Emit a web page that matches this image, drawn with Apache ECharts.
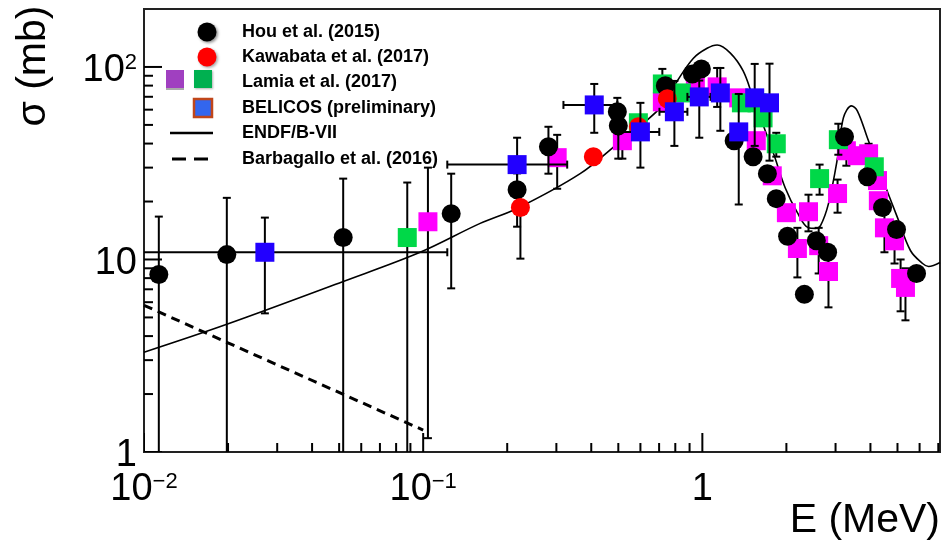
<!DOCTYPE html>
<html>
<head>
<meta charset="utf-8">
<script src="https://cdn.jsdelivr.net/npm/echarts@6/dist/echarts.min.js"></script>
<style>
html, body { margin: 0; padding: 0; background: #fff; }
#chart { width: 943px; height: 544px; }
</style>
</head>
<body>
<div id="chart"></div>
<script>
// rows: [E (MeV), sigma (mb), sigma low, sigma high]
var hou = [
    [0.0113, 8.36, 0.5, 16.7], [0.0198, 10.6, 0.5, 20.9], [0.0517, 13.0, 0.5, 26.3],
    [0.126, 17.3, 7.08, 27.9], [0.217, 23.0, 14.8, 28.0], [0.281, 38.5, 27.9, 48.9],
    [0.496, 58.5, 49, 69.1], [0.500, 49.5, 33.4, 58], [0.737, 79.8], [0.921, 92.0],
    [0.992, 97.7], [1.30, 41.4], [1.52, 34.2], [1.71, 27.9], [1.84, 20.7], [2.02, 13.2],
    [2.32, 6.59], [2.56, 12.5], [2.81, 10.9], [3.23, 43.4], [3.90, 26.9], [4.42, 18.6],
    [4.96, 14.3], [5.85, 8.46]
];
var kawabata = [
    [0.223, 18.6, 10.1, 22], [0.407, 34.2], [0.590, 48.9], [0.749, 68.3]
];
var lamiaMagenta = [
    [0.104, 15.7, 1.18, 30.0], [0.302, 33.8, 23.3, 44.4], [0.517, 41.4, 33.4, 48],
    [0.719, 65.9], [0.944, 81.6], [1.13, 78.8, 62, 98.8], [1.35, 69.1], [1.56, 41.4],
    [1.78, 27.2], [2.00, 17.5], [2.19, 11.4, 8.07, 14.6], [2.40, 17.7, 14, 21.7],
    [2.61, 11.8, 8.46, 14.6], [2.83, 8.66, 5.64, 11], [3.05, 22.0, 17.5, 26.0],
    [3.28, 36.7, 30.7, 42], [3.59, 34.6], [3.94, 35.4, 30, 39.9], [4.24, 25.7],
    [4.27, 20.2], [4.49, 14.6, 10.9, 18], [4.88, 12.5, 9.53, 15], [5.13, 7.97, 5.38, 10],
    [5.34, 7.16, 4.83, 9]
];
var lamiaGreen = [
    [0.0877, 13.0, 0.5, 25.1], [0.590, 51.3], [0.719, 81.6, 68, 97.7], [0.841, 73.3],
    [1.38, 65.1], [1.57, 65.1], [1.65, 54.4], [1.84, 39.9, 34.2, 45.5],
    [2.63, 26.3, 21.7, 31.1], [3.07, 41.9, 35, 50.7], [4.13, 30.3]
];
// rows: [E, sigma, sigma low, sigma high, E low, E high]
var belicos = [
    [0.0271, 10.9, 5.25, 16.5, 0.009, 0.122], [0.217, 31.1, 22, 42.9, 0.122, 0.328],
    [0.410, 63.5, 45.5, 81.6, 0.318, 0.496], [0.600, 46.0, 30.0, 65.1, 0.5, 0.701],
    [0.794, 58.5, 38.9, 84.6, 0.702, 0.884], [0.975, 69.9, 42.9, 85, 0.884, 1.07],
    [1.16, 73.3, 46.6, 98.8], [1.35, 46.0, 19.3, 72.4], [1.54, 69.1, 38.9, 103.7],
    [1.74, 65.1, 32.6, 104]
];
var endfE = [0.01, 0.0198, 0.0517, 0.0975, 0.160, 0.217, 0.365, 0.496, 0.707, 0.813,
    0.929, 1.04, 1.13, 1.26, 1.40, 1.52, 1.80, 1.98, 2.19, 2.40, 2.54, 2.65, 2.83, 3.05,
    3.20, 3.42, 3.59, 3.90, 4.35, 5.00, 5.57, 6.15, 6.46, 7.1];
var endfSigma = [3.30, 4.61, 7.69, 10.9, 15.4, 18.4, 27.9, 39.9, 61.3, 84.6,
    111, 125, 130, 118, 95.3, 69.1, 35.4, 23.6, 17.5, 14.6, 14.5, 15.0, 19.5, 33.8,
    54.4, 62.8, 59.2, 42.9, 27.9, 16.5, 11.1, 9.53, 9.20, 9.65];
var barbagalloE = [0.01, 0.1];
var barbagalloSigma = [5.78, 1.30];

var xMajorTicks = [0.01, 0.1, 1];
var yMajorTicks = [1, 10, 100];
var xMinorTicks = [0.02, 0.03, 0.04, 0.05, 0.06, 0.07, 0.08, 0.09,
    0.2, 0.3, 0.4, 0.5, 0.6, 0.7, 0.8, 0.9, 2, 3, 4, 5, 6, 7];
var yMinorTicks = [2, 3, 4, 5, 6, 7, 8, 9, 20, 30, 40, 50, 60, 70, 80, 90];
var legendLabels = ['Hou et al. (2015)', 'Kawabata et al. (2017)', 'Lamia et al. (2017)',
    'BELICOS (preliminary)', 'ENDF/B-VII', 'Barbagallo et al. (2016)'];

var X_MIN = 0.01, X_MAX = 7.1, Y_MIN = 1, Y_MAX = 200;
var FONT = '"Liberation Sans", Arial, sans-serif';
var LEG_FONT = '"Liberation Sans", Arial, sans-serif';

var chart = echarts.init(document.getElementById('chart'));

var powLabel = function (v) {
    var e = Math.log10(v);
    if (Math.abs(e - Math.round(e)) > 1e-6) return '';
    e = Math.round(e);
    if (e === 0) return '1';
    if (e === 1) return '10';
    return '{b|10}{s|' + (e < 0 ? '\u2212' + (-e) : e) + '}';
};

var richLabel = {
    b: { fontSize: 38, fontFamily: FONT, color: '#000' },
    s: { fontSize: 22, fontFamily: FONT, color: '#000', verticalAlign: 'top' }
};

var line = function (x1, y1, x2, y2) {
    return {
        type: 'line',
        shape: { x1: x1, y1: y1, x2: x2, y2: y2 },
        style: { stroke: '#000', lineWidth: 2 }
    };
};

// error bars drawn through the axis scales
var errorSeries = function (rows, z) {
    return {
        type: 'custom',
        z: z,
        clip: true,
        silent: true,
        data: rows.map(function (r) { return [r[0], r[1]]; }),
        encode: { x: 0, y: 1 },
        renderItem: function (params, api) {
            var r = rows[params.dataIndex];
            var c = api.coord([r[0], r[1]]);
            var kids = [];
            if (r[2] != null) {
                var pl = api.coord([r[0], r[2]]);
                var ph = api.coord([r[0], r[3]]);
                kids.push(line(c[0], pl[1], c[0], ph[1]));
                kids.push(line(c[0] - 4, pl[1], c[0] + 4, pl[1]));
                kids.push(line(c[0] - 4, ph[1], c[0] + 4, ph[1]));
            }
            if (r[4] != null) {
                var ql = api.coord([r[4], r[1]]);
                var qh = api.coord([r[5], r[1]]);
                kids.push(line(ql[0], c[1], qh[0], c[1]));
                kids.push(line(ql[0], c[1] - 4, ql[0], c[1] + 4));
                kids.push(line(qh[0], c[1] - 4, qh[0], c[1] + 4));
            }
            return { type: 'group', children: kids };
        }
    };
};

var markerSeries = function (rows, symbol, color, z) {
    return {
        type: 'scatter',
        z: z,
        symbol: symbol,
        symbolSize: 19,
        silent: true,
        itemStyle: { color: color, opacity: 1 },
        data: rows.map(function (r) { return [r[0], r[1]]; })
    };
};

// inward axis ticks (ROOT style), positioned by the log scales
var tickSeries = function (values, isX, len) {
    return {
        type: 'custom',
        z: 20,
        silent: true,
        clip: true,
        data: values.map(function (v) { return isX ? [v, 10] : [0.1, v]; }),
        encode: { x: 0, y: 1 },
        renderItem: function (params, api) {
            var v = values[params.dataIndex];
            var cs = params.coordSys;
            var el;
            if (isX) {
                var px = api.coord([v, 10])[0];
                var by = cs.y + cs.height;
                el = line(px, by, px, by - len);
            } else {
                var py = api.coord([0.1, v])[1];
                el = line(cs.x, py, cs.x + len, py);
            }
            return { type: 'group', children: [el] };
        }
    };
};

var legendGraphic = function () {
    var rowsY = [32, 57, 82, 108, 133, 159];
    var g = [];
    g.push({ type: 'circle', shape: { cx: 207, cy: rowsY[0], r: 9.5 },
        style: { fill: '#000', shadowBlur: 3, shadowOffsetX: 1.5, shadowOffsetY: 1.5, shadowColor: 'rgba(0,0,0,0.45)' } });
    g.push({ type: 'circle', shape: { cx: 207, cy: rowsY[1], r: 9.5 },
        style: { fill: '#ff0000', shadowBlur: 3, shadowOffsetX: 1.5, shadowOffsetY: 1.5, shadowColor: 'rgba(0,0,0,0.35)' } });
    g.push({ type: 'rect', shape: { x: 166, y: 72, width: 18, height: 18 }, style: { fill: '#aaaaaa' } });
    g.push({ type: 'rect', shape: { x: 166, y: 70, width: 18, height: 18 }, style: { fill: '#a040c0' } });
    g.push({ type: 'rect', shape: { x: 194, y: 70, width: 18, height: 18 },
        style: { fill: '#00b050', shadowBlur: 2, shadowOffsetX: 1, shadowOffsetY: 1, shadowColor: 'rgba(0,0,0,0.3)' } });
    g.push({ type: 'rect', shape: { x: 194, y: 99, width: 18, height: 18 },
        style: { fill: '#3366ee', stroke: '#c0461a', lineWidth: 2.5 } });
    g.push({ type: 'line', shape: { x1: 170, y1: rowsY[4], x2: 213, y2: rowsY[4] },
        style: { stroke: '#000', lineWidth: 2.5 } });
    g.push({ type: 'line', shape: { x1: 172, y1: rowsY[5], x2: 208, y2: rowsY[5] },
        style: { stroke: '#000', lineWidth: 3, lineDash: [14, 8] } });
    legendLabels.forEach(function (t, i) {
        g.push({ type: 'text', x: 242, y: rowsY[i],
            style: { text: t, fill: '#000', font: 'bold 18px ' + LEG_FONT, textVerticalAlign: 'middle' } });
    });
    g.push({ type: 'text', x: 940, y: 521,
        style: { text: 'E (MeV)', fill: '#000', font: '41px ' + FONT, textAlign: 'right', textVerticalAlign: 'middle' } });
    g.push({ type: 'text', x: 34, y: 66, rotation: Math.PI / 2,
        style: { text: '\u03c3 (mb)', fill: '#000', font: '41px ' + FONT, textAlign: 'center', textVerticalAlign: 'middle' } });
    return g.map(function (el) { el.z = 100; el.silent = true; return el; });
};

var option = {
    animation: false,
    backgroundColor: '#fff',
    grid: {
        left: 144, right: 3, top: 9, bottom: 92,
        show: true, borderColor: '#222', borderWidth: 2,
        containLabel: false, outerBoundsMode: 'none'
    },
    xAxis: {
        type: 'log', logBase: 10, min: X_MIN, max: X_MAX,
        axisLine: { lineStyle: { color: '#222', width: 2 } },
        axisTick: { show: false },
        splitLine: { show: false },
        axisLabel: {
            margin: 19, color: '#000', fontSize: 38, fontFamily: FONT,
            formatter: powLabel,
            rich: richLabel
        }
    },
    yAxis: {
        type: 'log', logBase: 10, min: Y_MIN, max: Y_MAX,
        axisLine: { lineStyle: { color: '#222', width: 2 } },
        axisTick: { show: false },
        splitLine: { show: false },
        axisLabel: {
            margin: 7, color: '#000', fontSize: 38, fontFamily: FONT,
            padding: [8, 0, 0, 0],
            formatter: powLabel,
            rich: richLabel
        }
    },
    graphic: legendGraphic(),
    series: [
        {
            type: 'line', z: 1, silent: true, smooth: 0.35, showSymbol: false,
            lineStyle: { color: '#000', width: 1.6 },
            data: endfE.map(function (e, i) { return [e, endfSigma[i]]; })
        },
        {
            type: 'line', z: 1, silent: true, showSymbol: false,
            lineStyle: { color: '#000', width: 3, type: [9, 6] },
            data: barbagalloE.map(function (e, i) { return [e, barbagalloSigma[i]]; })
        },
        errorSeries(lamiaMagenta, 2),
        markerSeries(lamiaMagenta, 'rect', '#ff00ff', 3),
        errorSeries(lamiaGreen, 4),
        markerSeries(lamiaGreen, 'rect', '#00d848', 5),
        errorSeries(hou, 6),
        markerSeries(hou, 'circle', '#000', 7),
        errorSeries(kawabata, 8),
        markerSeries(kawabata, 'circle', '#ff0000', 9),
        errorSeries(belicos, 10),
        markerSeries(belicos, 'rect', '#2200ff', 11),
        tickSeries(xMajorTicks, true, 19),
        tickSeries(yMajorTicks, false, 18),
        tickSeries(xMinorTicks, true, 9),
        tickSeries(yMinorTicks, false, 9)
    ]
};

chart.setOption(option);
</script>
</body>
</html>
